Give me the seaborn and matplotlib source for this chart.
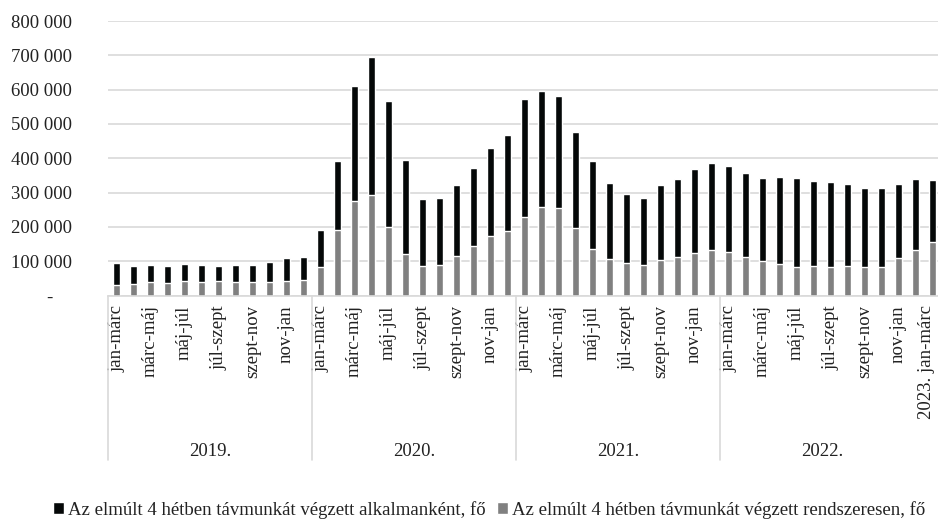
import pandas as pd
import matplotlib.pyplot as plt
import matplotlib.ticker as mticker
import matplotlib.transforms as mtransforms
from matplotlib.patches import Patch
import seaborn as sns

# 3-month rolling periods, Jan 2019 .. Jan-Mar 2023
periods = ["jan-márc", "febr-ápr", "márc-máj", "ápr-jún", "máj-júl", "jún-aug",
           "júl-szept", "aug-okt", "szept-nov", "okt-dec", "nov-jan", "dec-febr"]
years = ["2019.", "2020.", "2021.", "2022."]
last_label = "2023. jan-márc"

# total remote workers (alkalmanként + rendszeresen)
total = [
    95000, 85000, 89000, 85000, 92000, 90000, 85000, 88000, 88000, 98000, 109000, 112000,
    192000, 391000, 610000, 696000, 566000, 394000, 280000, 283000, 322000, 373000, 431000, 469000,
    572000, 595000, 581000, 477000, 392000, 328000, 296000, 283000, 322000, 339000, 368000, 387000,
    378000, 356000, 343000, 346000, 343000, 334000, 331000, 325000, 314000, 312000, 325000, 339000,
    336000,
]
# regular remote workers (rendszeresen)
regular = [
    30000, 33000, 39000, 36000, 42000, 39000, 42000, 39000, 39000, 39000, 42000, 44000,
    83000, 190000, 275000, 293000, 199000, 121000, 85000, 90000, 116000, 145000, 173000, 187000,
    230000, 259000, 254000, 197000, 136000, 107000, 96000, 90000, 103000, 112000, 124000, 132000,
    127000, 112000, 101000, 93000, 83000, 85000, 83000, 85000, 83000, 83000, 109000, 132000,
    155000,
]

df = pd.DataFrame({"pos": range(len(total)), "total": total, "regular": regular})

sns.set_theme(style="white")
plt.rcParams["font.family"] = ["Liberation Serif", "DejaVu Serif"]

W, H = 938, 520
fig = plt.figure(figsize=(W / 100, H / 100), dpi=100)
ax = fig.add_axes([108 / W, 1 - 295.5 / H, 830 / W, 274.5 / H])

sns.barplot(data=df, x="pos", y="total", color="#050808", saturation=1,
            width=0.4, errorbar=None, ax=ax)
sns.barplot(data=df, x="pos", y="regular", color="#808080", saturation=1,
            width=0.4, errorbar=None, ax=ax)

ax.set_xlim(-0.5, -0.5 + 830 / 17)
ax.set_ylim(0, 800000)
ax.set_xlabel("")
ax.set_ylabel("")

grid_col = "#d9d9d9"
ax.yaxis.set_major_locator(mticker.MultipleLocator(100000))
ax.yaxis.grid(True, color=grid_col, lw=1.2)
ax.set_axisbelow(True)
for s in ["top", "right", "left"]:
    ax.spines[s].set_visible(False)
ax.spines["bottom"].set_color(grid_col)
ax.spines["bottom"].set_linewidth(1.2)


def fmt(v, _):
    if v == 0:
        return "-    "
    return f"{int(v):,}".replace(",", " ")


ax.yaxis.set_major_formatter(mticker.FuncFormatter(fmt))
ax.tick_params(axis="y", length=0, pad=26, labelsize=13.5, labelcolor="#222222")

tick_pos = list(range(0, 48, 2)) + [48]
tick_lab = [periods[i % 12] for i in range(0, 48, 2)] + [last_label]
ax.set_xticks(tick_pos)
ax.set_xticklabels(tick_lab, rotation=90, fontsize=13.5, color="#222222")
ax.tick_params(axis="x", length=0, pad=7)

# nudge the last label so it stays inside the figure
lbl = ax.get_xticklabels()[-1]
lbl.set_transform(lbl.get_transform() +
                  mtransforms.ScaledTranslation(-6 / 100, 0, fig.dpi_scale_trans))

# year group labels and separators
trans = ax.get_xaxis_transform()
y_sep = (295.5 - 460) / 274.5
for k, yr in enumerate(years):
    ax.text(k * 12 + 5.5, (295.5 - 451) / 274.5, yr, transform=trans,
            ha="center", va="center", fontsize=13.5, color="#222222")
for xs in [-0.5, 11.5, 23.5, 35.5]:
    ax.plot([xs, xs], [0, y_sep], transform=trans, color=grid_col, lw=1.2,
            clip_on=False)

handles = [Patch(facecolor="#050808", label="Az elmúlt 4 hétben távmunkát végzett alkalmanként, fő"),
           Patch(facecolor="#808080", label="Az elmúlt 4 hétben távmunkát végzett rendszeresen, fő")]
fig.legend(handles=handles, loc="center", bbox_to_anchor=(489 / W, 1 - 510 / H),
           ncol=2, frameon=False, fontsize=13.5, handlelength=0.6, handleheight=0.6,
           handletextpad=0.2, columnspacing=0.6, labelcolor="#222222")

fig.savefig("out.png", dpi=100)
